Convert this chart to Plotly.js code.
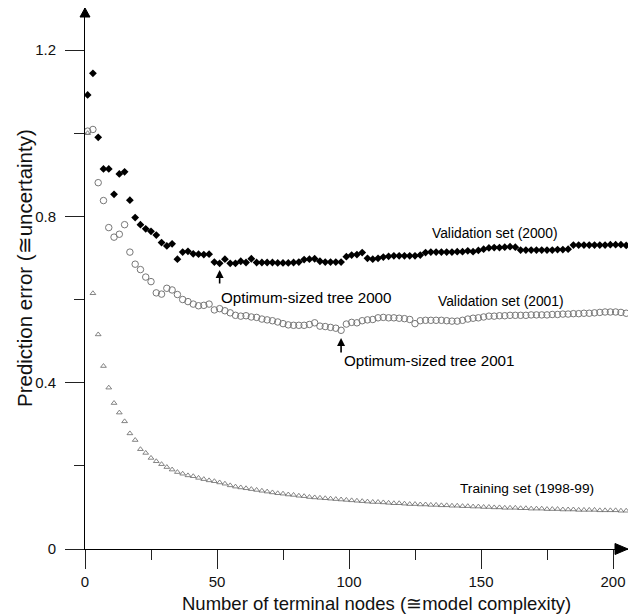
<!DOCTYPE html>
<html>
<head>
<meta charset="utf-8">
<script src="https://cdn.plot.ly/plotly-3.0.1.min.js"></script>
<style>html,body{margin:0;padding:0;background:#fff;}#chart{width:639px;height:616px;}</style>
</head>
<body>
<div id="chart"></div>
<script>
// Number of terminal nodes (odd values 1..205)
const nodes = [1,3,5,7,9,11,13,15,17,19,21,23,25,27,29,31,33,35,37,39,41,43,45,47,49,51,53,55,57,59,61,63,65,67,69,71,73,75,77,79,81,83,85,87,89,91,93,95,97,99,101,103,105,107,109,111,113,115,117,119,121,123,125,127,129,131,133,135,137,139,141,143,145,147,149,151,153,155,157,159,161,163,165,167,169,171,173,175,177,179,181,183,185,187,189,191,193,195,197,199,201,203,205];

const validation2000 = [1.092,1.144,0.990,0.914,0.914,0.853,0.902,0.907,0.839,0.797,0.780,0.770,0.764,0.755,0.737,0.729,0.734,0.697,0.714,0.716,0.710,0.709,0.708,0.709,0.690,0.687,0.697,0.687,0.687,0.692,0.689,0.698,0.689,0.689,0.689,0.689,0.688,0.688,0.688,0.689,0.690,0.696,0.697,0.698,0.692,0.690,0.690,0.690,0.690,0.703,0.707,0.708,0.713,0.699,0.697,0.699,0.702,0.704,0.705,0.705,0.705,0.705,0.705,0.707,0.713,0.714,0.714,0.714,0.714,0.714,0.715,0.715,0.717,0.715,0.718,0.721,0.724,0.725,0.725,0.726,0.727,0.726,0.719,0.719,0.719,0.719,0.719,0.719,0.719,0.720,0.720,0.721,0.731,0.731,0.731,0.731,0.731,0.731,0.731,0.732,0.732,0.732,0.730];

const validation2001 = [1.005,1.009,0.881,0.838,0.773,0.750,0.757,0.780,0.714,0.685,0.672,0.654,0.643,0.616,0.613,0.627,0.623,0.612,0.600,0.595,0.589,0.585,0.586,0.589,0.575,0.578,0.573,0.568,0.562,0.560,0.561,0.558,0.557,0.553,0.551,0.549,0.546,0.542,0.539,0.538,0.538,0.538,0.540,0.544,0.536,0.535,0.533,0.531,0.526,0.541,0.545,0.544,0.549,0.551,0.552,0.556,0.557,0.556,0.556,0.555,0.554,0.552,0.542,0.549,0.550,0.550,0.550,0.550,0.549,0.548,0.548,0.550,0.553,0.555,0.556,0.558,0.560,0.560,0.561,0.561,0.562,0.562,0.562,0.562,0.563,0.563,0.563,0.563,0.564,0.564,0.565,0.565,0.566,0.566,0.567,0.567,0.568,0.569,0.570,0.570,0.570,0.569,0.567];

const training = [1.000,0.615,0.516,0.440,0.388,0.351,0.328,0.307,0.278,0.262,0.240,0.231,0.219,0.211,0.204,0.197,0.191,0.185,0.181,0.177,0.175,0.171,0.168,0.165,0.163,0.160,0.157,0.153,0.150,0.148,0.146,0.144,0.142,0.140,0.138,0.136,0.134,0.133,0.131,0.130,0.128,0.127,0.125,0.124,0.123,0.122,0.121,0.120,0.119,0.118,0.117,0.116,0.115,0.114,0.113,0.113,0.112,0.111,0.110,0.110,0.109,0.108,0.108,0.107,0.107,0.106,0.106,0.105,0.105,0.104,0.104,0.103,0.103,0.102,0.102,0.101,0.101,0.100,0.100,0.099,0.099,0.099,0.098,0.098,0.097,0.097,0.097,0.096,0.096,0.096,0.095,0.095,0.095,0.094,0.094,0.094,0.094,0.093,0.093,0.093,0.093,0.092,0.092];

const xTickVals = [0,50,100,150,200];
const xTickText = ["0","50","100","150","200"];
const yTickVals = [0,0.4,0.8,1.2];
const yTickText = ["0","0.4","0.8","1.2"];

const W = 639, H = 616, ML = 85, MR = 11, MT = 8, MB = 67;
const PW = W - ML - MR, PH = H - MT - MB;
const xPerUnit = 2.64, yPerUnit = 415.8;
const px = v => (v - ML) / PW;          // pixel x -> paper
const py = v => (H - MB - v) / PH;      // pixel y -> paper

const FONT = "Liberation Sans, Arial, Helvetica, sans-serif";

const traces = [
  {x: nodes, y: training, type: "scatter", mode: "markers", name: "Training set (1998-99)",
   marker: {symbol: "triangle-up-open", size: 5, color: "#666", line: {width: 0.8, color: "#666"}}},
  {x: nodes, y: validation2001, type: "scatter", mode: "markers", name: "Validation set (2001)",
   marker: {symbol: "circle-open", size: 6.5, color: "#777", line: {width: 1, color: "#777"}}},
  {x: nodes, y: validation2000, type: "scatter", mode: "markers", name: "Validation set (2000)",
   marker: {symbol: "diamond", size: 6, color: "#000"}}
];

const axisCommon = {
  showgrid: false, zeroline: false, showline: true, linecolor: "#000", linewidth: 1,
  ticks: "outside", ticklen: 19, tickwidth: 1, tickcolor: "#222",
  tickfont: {family: FONT, size: 15, color: "#111"}, fixedrange: true
};

const layout = {
  width: W, height: H,
  margin: {l: ML, r: MR, t: MT, b: MB, pad: 0},
  paper_bgcolor: "#fff", plot_bgcolor: "#fff",
  showlegend: false,
  font: {family: FONT, color: "#000"},
  xaxis: Object.assign({}, axisCommon, {
    range: [0, PW / xPerUnit],
    tickmode: "array", tickvals: xTickVals, ticktext: xTickText,
    minor: {tickvals: [25,75,125,175], ticks: "outside", ticklen: 10, tickcolor: "#222", tickwidth: 1},
    ticklabelstandoff: 0
  }),
  yaxis: Object.assign({}, axisCommon, {
    range: [0, PH / yPerUnit],
    tickmode: "array", tickvals: yTickVals, ticktext: yTickText,
    minor: {tickvals: [0.2,0.6,1.0], ticks: "outside", ticklen: 10, tickcolor: "#222", tickwidth: 1},
    ticklabelstandoff: 6
  }),
  shapes: [
    {type: "path", xref: "paper", yref: "paper",
     path: `M ${-5/PW} ${1-9/PH} L 0 1 L ${5/PW} ${1-9/PH} Z`,
     fillcolor: "#000", line: {color: "#000", width: 1}},
    {type: "path", xref: "paper", yref: "paper",
     path: `M ${1-13/PW} ${-5.5/PH} L 1 0 L ${1-13/PW} ${5.5/PH} Z`,
     fillcolor: "#000", line: {color: "#000", width: 1}}
  ],
  annotations: [
    {xref: "paper", yref: "paper", x: px(376), y: py(603), xanchor: "center", yanchor: "middle",
     text: "Number of terminal nodes (≅model complexity)", showarrow: false,
     font: {family: FONT, size: 18.5, color: "#111"}},
    {xref: "paper", yref: "paper", x: px(24), y: py(268), xanchor: "center", yanchor: "middle",
     text: "Prediction error (≅uncertainty)", textangle: -90, showarrow: false,
     font: {family: FONT, size: 20.5, color: "#111"}},
    {xref: "paper", yref: "paper", x: px(495), y: py(233), xanchor: "center", yanchor: "middle",
     text: "Validation set (2000)", showarrow: false, font: {family: FONT, size: 13.8, color: "#000"}},
    {xref: "paper", yref: "paper", x: px(501), y: py(301), xanchor: "center", yanchor: "middle",
     text: "Validation set (2001)", showarrow: false, font: {family: FONT, size: 13.8, color: "#000"}},
    {xref: "paper", yref: "paper", x: px(527), y: py(488), xanchor: "center", yanchor: "middle",
     text: "Training set (1998-99)", showarrow: false, font: {family: FONT, size: 13.7, color: "#000"}},
    {xref: "paper", yref: "paper", x: px(219), y: py(297), xanchor: "left", yanchor: "middle",
     text: "Optimum-sized tree 2000", showarrow: false, font: {family: FONT, size: 15.2, color: "#000"}},
    {xref: "paper", yref: "paper", x: px(342), y: py(360), xanchor: "left", yanchor: "middle",
     text: "Optimum-sized tree 2001", showarrow: false, font: {family: FONT, size: 15.2, color: "#000"}},
    {xref: "x", yref: "y", x: 51, y: (549-270)/yPerUnit, text: "", showarrow: true,
     ax: 0, ay: 15, arrowhead: 2, arrowsize: 1, arrowwidth: 1.6, arrowcolor: "#000"},
    {xref: "x", yref: "y", x: 97, y: (549-338)/yPerUnit, text: "", showarrow: true,
     ax: 0, ay: 16, arrowhead: 2, arrowsize: 1, arrowwidth: 1.6, arrowcolor: "#000"}
  ]
};

Plotly.newPlot("chart", traces, layout, {displayModeBar: false, staticPlot: true});
</script>
</body>
</html>
